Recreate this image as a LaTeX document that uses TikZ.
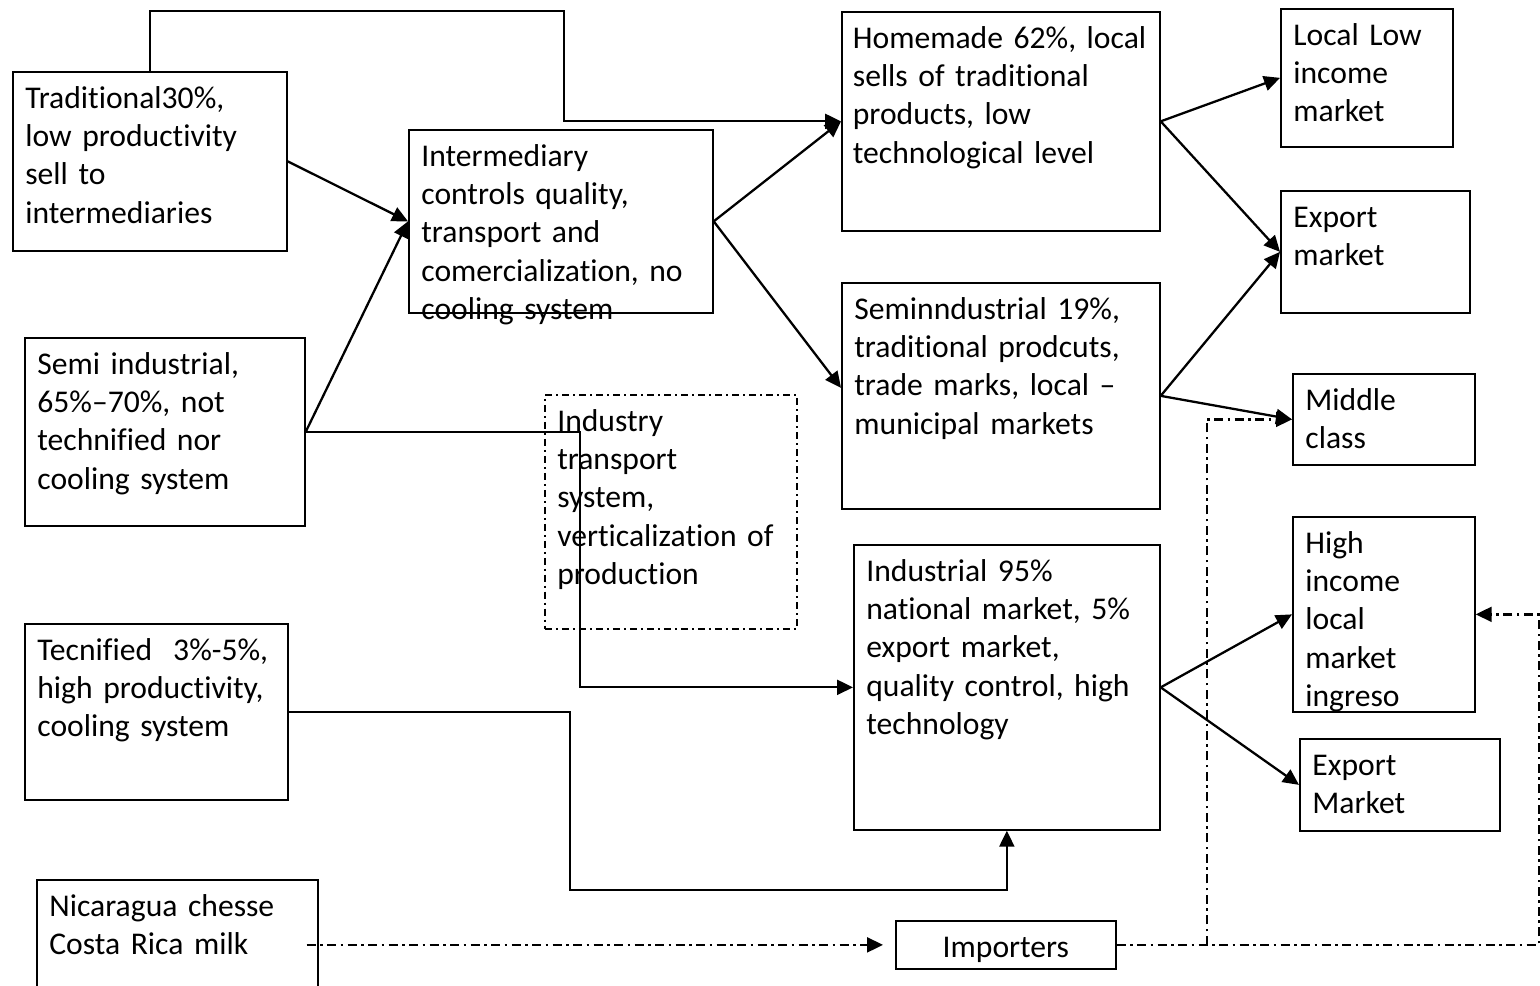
\documentclass[tikz,border=0pt]{standalone}
\usepackage{fontspec}
\setmainfont{Carlito}[Ligatures={TeX,NoCommon}]
\usetikzlibrary{arrows.meta,calc}
\tikzset{
  box/.style={draw, line width=1pt, anchor=north west, align=left, inner xsep=0.25cm, inner ysep=0pt,
    text height=0.73cm, font=\fontsize{18pt}{21.8pt}\selectfont},
  indbox/.style={box, line width=0.9pt, dash pattern=on 0.14cm off 0.08cm on 0.04cm off 0.08cm},
  conn/.style={line width=1.3pt, -{Triangle[length=0.32cm,width=0.3cm]}},
  dd/.style={line width=1.3pt, dash pattern=on 0.18cm off 0.09cm on 0.05cm off 0.09cm},
}
\begin{document}
\begin{tikzpicture}[x=0.02cm,y=-0.02cm]
  \useasboundingbox (0,0) rectangle (1540,986);

  \path (12,71) node[box,text width=4.98cm,text depth=2.85cm] (trad) {Traditional30\%,\\low productivity\\sell to\\intermediaries};
  \path (408,129) node[box,text width=5.58cm,text depth=2.93cm] (inter) {Intermediary\\controls quality,\\transport and\\comercialization, no\\cooling system};
  \path (24,337) node[box,text width=5.1cm,text depth=3.03cm] (semi) {Semi industrial,\\65\%–70\%, not\\technified nor\\cooling system};
  \path (24,623) node[box,text width=4.76cm,text depth=2.79cm] (tecn) {Tecnified\ \ 3\%-5\%,\\high productivity,\\cooling system};
  \path (36,879) node[box,text width=5.12cm,text depth=2.07cm] (nica) {Nicaragua chesse\\Costa Rica milk};
  \path (544,394) node[indbox,text width=4.54cm,text depth=3.95cm] (indtr) {Industry\\transport\\system,\\verticalization of\\production};

  \path (841,11) node[box,inner xsep=0.22cm,text width=5.92cm,text depth=3.65cm] (home) {\mbox{Homemade 62\%, local}\\sells of traditional\\products, low\\technological level};
  \path (841,282) node[box,text width=5.86cm,text depth=3.79cm] (semind) {Seminndustrial 19\%,\\traditional prodcuts,\\trade marks, local –\\municipal markets};
  \path (853,544) node[box,text width=5.62cm,text depth=4.97cm] (indus) {Industrial 95\%\\national market, 5\%\\export market,\\quality control, high\\technology};
  \path (895,920) node[box,inner xsep=0pt,align=center,text width=4.4cm,text height=0.74cm,text depth=0.22cm] (imp) {Importers};

  \path (1280,8) node[box,text width=2.94cm,text depth=2.03cm] (lowinc) {Local Low\\income\\market};
  \path (1280,190) node[box,text width=3.28cm,text depth=1.71cm] (expo) {Export\\market};
  \path (1292,373) node[box,text width=3.14cm,text depth=1.09cm] (mid) {Middle\\class};
  \path (1292,516) node[box,text width=3.14cm,text depth=3.17cm] (high) {High\\income\\local\\market\\ingreso};
  \path (1299,738) node[box,text width=3.5cm,text depth=1.11cm] (expo2) {Export\\Market};

  \draw[conn] (trad.north) |- (564,11) |- (home.west);
  \draw[conn] (trad.east) -- (inter.west);
  \draw[conn] (semi.east) -- (inter.west);
  \draw[conn] (semi.east) -- ++(274,0) |- (indus.west);
  \draw[conn] (inter.east) -- (home.west);
  \draw[conn] (inter.east) -- ([yshift=0.16cm]semind.west);
  \draw[conn] (tecn.east) -| (570,890) -| (indus.south);

  \draw[conn] (home.east) -- (lowinc.west);
  \draw[conn] (home.east) -- (expo.west);
  \draw[conn] (semind.east) -- (expo.west);
  \draw[conn] (semind.east) -- (mid.west);
  \draw[conn] (indus.east) -- (high.west);
  \draw[conn] (indus.east) -- (expo2.west);

  \draw[dd, -{Triangle[length=0.32cm,width=0.3cm]}] ($(nica.east |- imp.west)+(-12,0)$) -- ($(imp.west)+(-12,0)$);
  \draw[dd, -{Triangle[length=0.32cm,width=0.3cm]}] (imp.east) -| ($(high.east)+(63,0)$) -- (high.east);
  \draw[dd, -{Triangle[length=0.32cm,width=0.3cm]}] ($(imp.east)+(90,0)$) |- (mid.west);
\end{tikzpicture}
\end{document}
